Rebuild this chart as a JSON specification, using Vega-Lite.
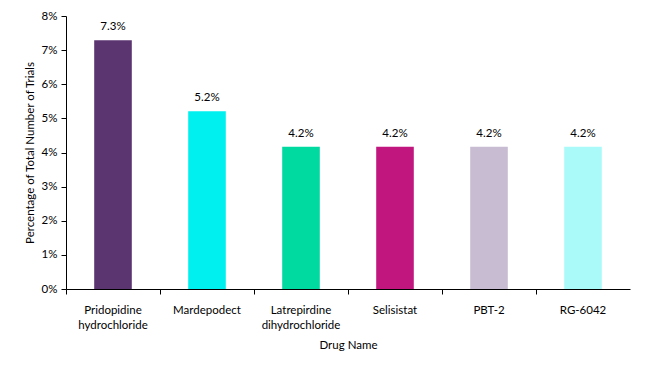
{
  "$schema": "https://vega.github.io/schema/vega-lite/v6.json",
  "width": 564,
  "height": 273,
  "autosize": "none",
  "padding": {"left": 66, "top": 16, "right": 15, "bottom": 79},
  "background": "white",
  "config": {
    "view": {"stroke": null},
    "font": "Lato",
    "axis": {"grid": false, "domainColor": "#000000", "tickColor": "#000000", "labelColor": "#000000", "titleColor": "#000000", "labelFont": "Lato", "titleFont": "Lato", "labelFontSize": 11.5, "titleFontSize": 11.5, "titleFontWeight": "normal", "labelOverlap": false}
  },
  "data": {
    "values": [
      {"drug": "Pridopidine\nhydrochloride", "pct": 0.0729, "color": "#5B3570"},
      {"drug": "Mardepodect", "pct": 0.0521, "color": "#00F0F0"},
      {"drug": "Latrepirdine\ndihydrochloride", "pct": 0.0417, "color": "#00D9A0"},
      {"drug": "Selisistat", "pct": 0.0417, "color": "#C2167F"},
      {"drug": "PBT-2", "pct": 0.0417, "color": "#C8BCD2"},
      {"drug": "RG-6042", "pct": 0.0417, "color": "#AAFAFA"}
    ]
  },
  "encoding": {
    "x": {
      "field": "drug", "type": "nominal", "sort": null,
      "scale": {"paddingInner": 0, "paddingOuter": 0},
      "axis": {"title": "Drug Name", "labelAngle": 0, "labelExpr": "split(datum.label, '\\n')", "bandPosition": 0, "labelPadding": 10, "tickSize": 5, "titlePadding": 9, "labelLineHeight": 15}
    },
    "y": {
      "field": "pct", "type": "quantitative",
      "scale": {"domain": [0, 0.08]},
      "axis": {"title": "Percentage of Total Number of Trials", "format": ".0%", "values": [0, 0.01, 0.02, 0.03, 0.04, 0.05, 0.06, 0.07, 0.08], "tickSize": 5, "labelPadding": 4, "titlePadding": 6, "labelFlush": false}
    }
  },
  "layer": [
    {
      "mark": {"type": "bar", "width": {"band": 0.4}},
      "encoding": {"color": {"field": "color", "type": "nominal", "scale": null}}
    },
    {
      "mark": {"type": "text", "baseline": "bottom", "dy": -8, "fontSize": 11.5, "font": "Lato", "color": "#000000"},
      "encoding": {"text": {"field": "pct", "type": "quantitative", "format": ".1%"}}
    }
  ]
}
